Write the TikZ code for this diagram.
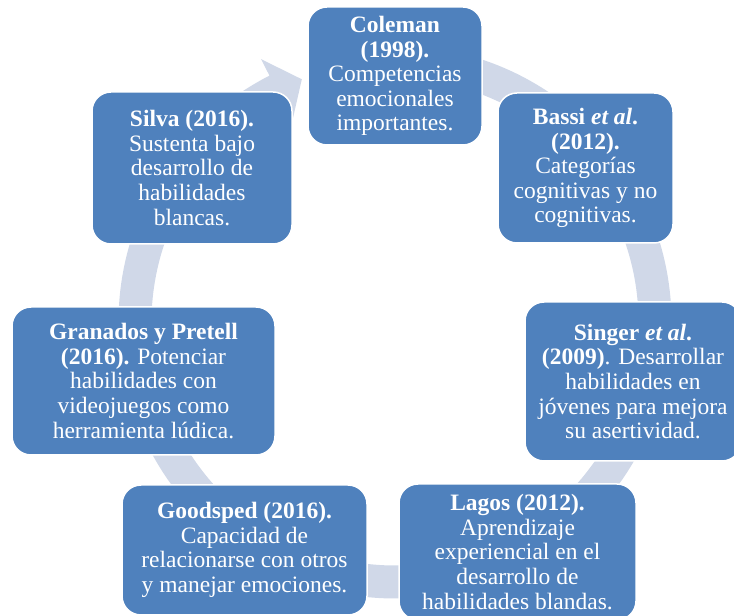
\documentclass[tikz,border=0pt]{standalone}
\usepackage{fontspec}
\setmainfont{Liberation Serif}
\definecolor{boxblue}{HTML}{4F81BD}
\definecolor{arcfill}{HTML}{D0D8E8}
\tikzset{
  cyclebox/.style={draw=white, line width=1.5pt, fill=boxblue, rounded corners=19pt,
    text=white, align=center, inner sep=0pt,
    font=\fontsize{23.5}{24.6}\selectfont},
  cyclearc/.style={fill=arcfill, draw=none}
}
% #1 start angle, #2 angle of the back of the head, #3 tip angle
\newcommand\cyclearrow[3]{%
  \fill[cyclearc] (#1:276.5) arc[start angle=#1, end angle=#2, radius=276.5]
    -- (#2:295) -- (#3:260) -- (#2:226) -- (#2:243.5)
    arc[start angle=#2, end angle=#1, radius=243.5] -- cycle;
}
\begin{document}
\begin{tikzpicture}[x=1pt,y=1pt]
\useasboundingbox (0,0) rectangle (734,616);
\clip (0,0) rectangle (734,616);
\begin{scope}[shift={(395,294)}]
  \cyclearrow{138}{117}{111}
  \cyclearrow{75}{48}{42}
  \cyclearrow{30}{0}{-6}
  \cyclearrow{-20}{-48}{-54}
  \cyclearrow{-75}{-105}{-111}
  \cyclearrow{-110}{-156}{-162}
  \cyclearrow{-170}{-212}{-218}
\end{scope}
\node[cyclebox, minimum width=174pt, minimum height=138pt] (coleman) at (395,540)
  {\textbf{Coleman}\\\textbf{(1998).}\\Competencias\\emocionales\\importantes.};
\node[cyclebox, minimum width=175pt, minimum height=150pt] (bassi) at (585.5,448)
  {\textbf{Bassi \textit{et al}.}\\\textbf{(2012).}\\Categorías\\cognitivas y no\\cognitivas.};
\node[cyclebox, minimum width=216pt, minimum height=159pt] (singer) at (633,234.5)
  {\textbf{Singer \textit{et al}.}\\\textbf{(2009)}. Desarrollar\\habilidades en\\jóvenes para mejora\\su asertividad.};
\node[cyclebox, minimum width=237pt, minimum height=136pt] (lagos) at (517.5,64)
  {\textbf{Lagos (2012).}\\Aprendizaje\\experiencial en el\\desarrollo de\\habilidades blandas.};
\node[cyclebox, minimum width=245pt, minimum height=130pt] (goodsped) at (244.5,66)
  {\textbf{Goodsped (2016).}\\Capacidad de\\relacionarse con otros\\y manejar emociones.};
\node[cyclebox, minimum width=263pt, minimum height=148pt] (granados) at (143.5,235)
  {\textbf{Granados y Pretell}\\\textbf{(2016).} Potenciar\\habilidades con\\videojuegos como\\herramienta lúdica.};
\node[cyclebox, minimum width=200pt, minimum height=152pt] (silva) at (192,448)
  {\textbf{Silva (2016).}\\Sustenta bajo\\desarrollo de\\habilidades\\blancas.};
\end{tikzpicture}
\end{document}
